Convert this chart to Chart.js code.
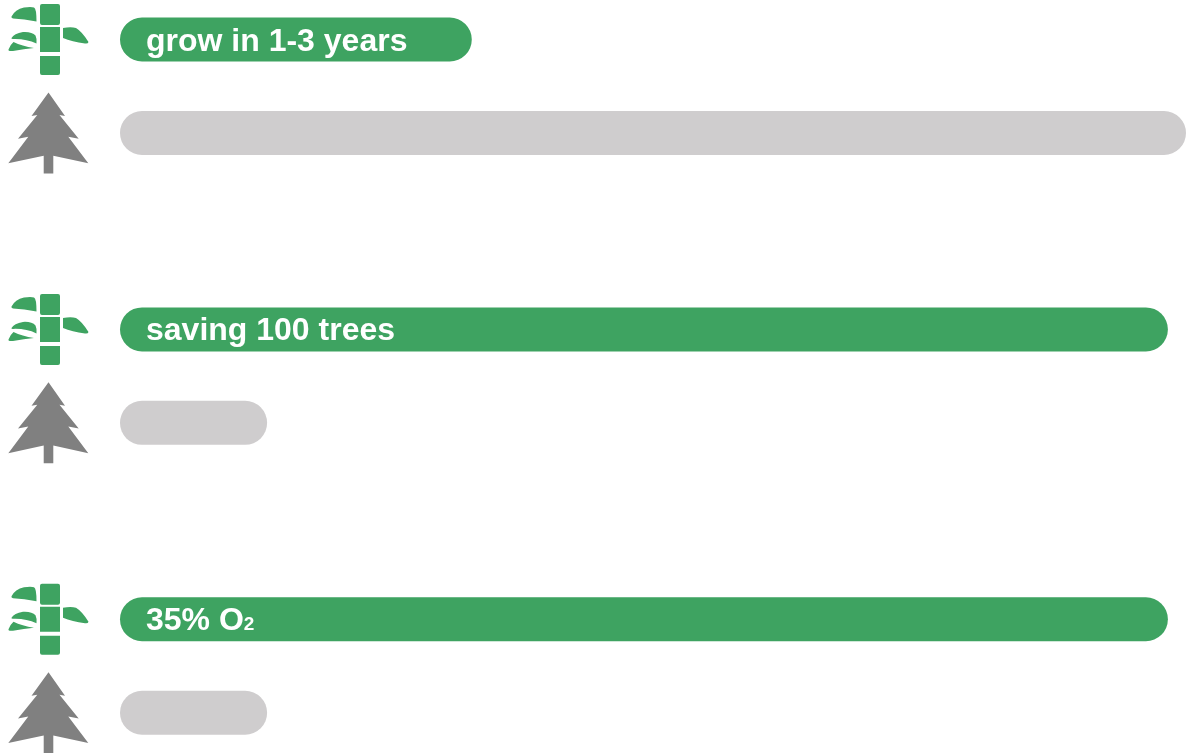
<!DOCTYPE html>
<html>
<head>
<meta charset="utf-8">
<style>
  html, body { margin: 0; padding: 0; background: #fff; overflow: hidden; }
  #wrap { width: 1186px; height: 753px; }
</style>
<script src="https://cdn.jsdelivr.net/npm/chart.js@4"></script>
</head>
<body>
<div id="wrap"><canvas id="chart" width="1186" height="753"></canvas></div>
<script>
// data (longest bar = 100)
const categories = ['grow in 1-3 years', 'saving 100 trees', '35% O2'];
const bambooValues = [33, 98.3, 98.3];
const treeValues = [100, 13.8, 13.8];

const green = '#3ea361';
const lightGrey = '#cfcdce';
const treeGrey = '#808080';

// icon shapes, drawn around y = 0 (middle of the bar they belong to)
const bambooPath = new Path2D(`
  M42 -35.5 H58 Q60 -35.5 60 -33.5 V-16.5 Q60 -14.5 58 -14.5 H42 Q40 -14.5 40 -16.5 V-33.5 Q40 -35.5 42 -35.5 Z
  M40 -12.5 H60 V12.5 H40 Z
  M40 16.5 H60 V33.5 Q60 35.5 58 35.5 H42 Q40 35.5 40 33.5 Z
  M11.5 -23 Q15 -30 24 -32 Q31 -33 34 -32 Q36.5 -31 36.5 -18 Q24 -20.5 13 -21 Q11 -21.5 11.5 -23 Z
  M11.5 -1.5 Q14 -6 23 -7.5 Q32 -8 35.5 -4 Q37 -1 36.5 4 Q26 -1 13 -0.5 Q11 -0.5 11.5 -1.5 Z
  M8.5 10 Q10 5.5 13.5 2.5 Q22 6.5 34 8.5 Q24 9.5 13 11.5 Q8 12 8.5 10 Z
  M63 -11.5 Q71 -13 76 -11.5 Q82 -8 88.5 2.5 Q88 4.5 85 4 Q72 2 63 -1.5 Z
`);
const treePath = new Path2D(`
  M48.5 -40.5 L65 -17 L59.5 -18 L78.7 5.7 L68.3 3.7 L88.3 30.3 L53.3 22.7 V40.5 H43.7 V22.7
  L8.3 30.3 L28.3 3.7 L18 5.7 L37.3 -18 L31.5 -17 Z
`);

const barIcons = {
  id: 'barIcons',
  afterDatasetsDraw(chart) {
    const ctx = chart.ctx;
    const paths = [bambooPath, treePath];
    const colors = [green, treeGrey];
    paths.forEach((path, i) => {
      chart.getDatasetMeta(i).data.forEach((bar) => {
        ctx.save();
        ctx.translate(0, bar.y);
        ctx.fillStyle = colors[i];
        ctx.fill(path);
        ctx.restore();
      });
    });
  }
};

// white text on the green bars, the 2 of O2 goes small
const barLabels = {
  id: 'barLabels',
  afterDatasetsDraw(chart) {
    const ctx = chart.ctx;
    ctx.save();
    ctx.fillStyle = '#fff';
    ctx.textBaseline = 'alphabetic';
    chart.getDatasetMeta(0).data.forEach((bar, i) => {
      const label = categories[i];
      const y = bar.y + 11;
      const x = bar.base + 26;
      ctx.font = 'bold 32px "Liberation Sans"';
      if (label.endsWith('O2')) {
        const head = label.slice(0, -1);
        ctx.fillText(head, x, y);
        const w = ctx.measureText(head).width;
        ctx.font = 'bold 19px "Liberation Sans"';
        ctx.fillText('2', x + w, y);
      } else {
        ctx.fillText(label, x, y);
      }
    });
    ctx.restore();
  }
};

new Chart(document.getElementById('chart'), {
  type: 'bar',
  data: {
    labels: categories,
    datasets: [
      { label: 'bamboo', data: bambooValues, backgroundColor: green },
      { label: 'tree', data: treeValues, backgroundColor: lightGrey }
    ]
  },
  options: {
    indexAxis: 'y',
    responsive: false,
    animation: false,
    events: [],
    layout: { padding: { left: 120, right: 0, top: 86.25, bottom: 87 } },
    datasets: {
      bar: {
        categoryPercentage: 0.645,
        barPercentage: 0.4706,
        borderRadius: 22,
        borderSkipped: false,
        clip: false
      }
    },
    scales: {
      x: { display: false, min: 0, max: 100 },
      y: { display: false, offset: false }
    },
    plugins: {
      legend: { display: false },
      title: { display: false },
      tooltip: { enabled: false }
    }
  },
  plugins: [barIcons, barLabels]
});
</script>
</body>
</html>
